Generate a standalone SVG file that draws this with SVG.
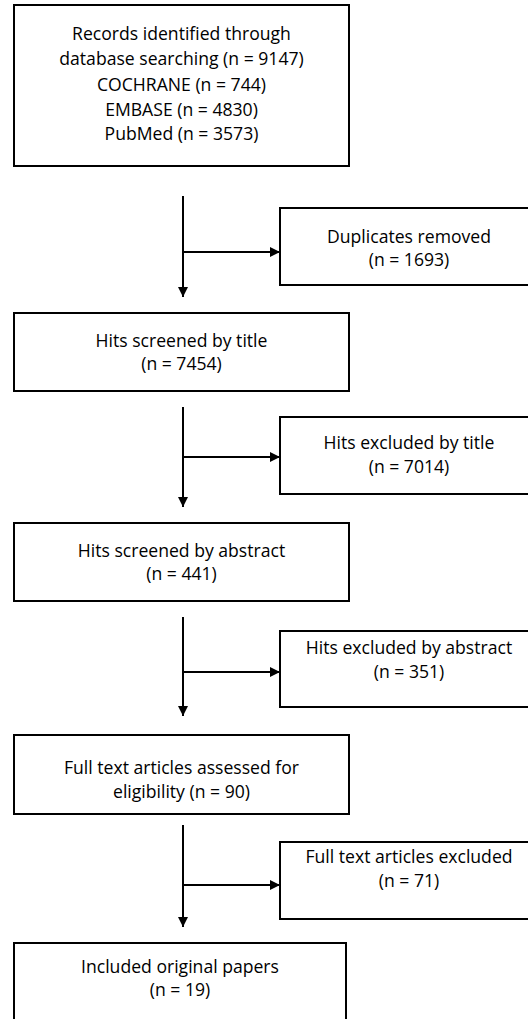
<svg xmlns="http://www.w3.org/2000/svg" width="528" height="1019" viewBox="0 0 528 1019">
<defs>
<marker id="ah" markerWidth="10" markerHeight="10" refX="10" refY="5" orient="auto" markerUnits="userSpaceOnUse">
<path d="M0,0 L10,5 L0,10 Z" fill="#000"/>
</marker>
<style>
.box{fill:#fff;stroke:#000;stroke-width:2}
.ln{fill:none;stroke:#000;stroke-width:2}
text{font-family:"Open Sans","Liberation Sans",sans-serif;font-size:17.6px;fill:#000;text-anchor:middle}
</style>
</defs>
<rect width="528" height="1019" fill="#fff"/>
<g id="connectors">
<line class="ln" x1="183" y1="196" x2="183" y2="297" marker-end="url(#ah)"/>
<line class="ln" x1="183" y1="252" x2="280" y2="252" marker-end="url(#ah)"/>
<line class="ln" x1="183" y1="407" x2="183" y2="507" marker-end="url(#ah)"/>
<line class="ln" x1="183" y1="457" x2="280" y2="457" marker-end="url(#ah)"/>
<line class="ln" x1="183" y1="617" x2="183" y2="716" marker-end="url(#ah)"/>
<line class="ln" x1="183" y1="672" x2="280" y2="672" marker-end="url(#ah)"/>
<line class="ln" x1="183" y1="825" x2="183" y2="927" marker-end="url(#ah)"/>
<line class="ln" x1="183" y1="885" x2="280" y2="885" marker-end="url(#ah)"/>
</g>
<g id="records">
<rect class="box" x="14" y="5" width="335" height="161"/>
<text x="181.5" y="40">Records identified through</text>
<text x="181.5" y="65">database searching (n = 9147)</text>
<text x="181.5" y="91">COCHRANE (n = 744)</text>
<text x="181.5" y="115.5">EMBASE (n = 4830)</text>
<text x="181.5" y="140">PubMed (n = 3573)</text>
</g>
<g id="duplicates">
<rect class="box" x="280" y="208" width="262" height="77"/>
<text x="409" y="242.5">Duplicates removed</text>
<text x="409" y="266">(n = 1693)</text>
</g>
<g id="screened-title">
<rect class="box" x="14" y="313" width="335" height="78"/>
<text x="181.5" y="346.5">Hits screened by title</text>
<text x="181.5" y="370">(n = 7454)</text>
</g>
<g id="excluded-title">
<rect class="box" x="280" y="417" width="262" height="77"/>
<text x="409" y="449">Hits excluded by title</text>
<text x="409" y="472.5">(n = 7014)</text>
</g>
<g id="screened-abstract">
<rect class="box" x="14" y="523" width="335" height="78"/>
<text x="181.5" y="556.5">Hits screened by abstract</text>
<text x="181.5" y="580">(n = 441)</text>
</g>
<g id="excluded-abstract">
<rect class="box" x="280" y="631" width="262" height="76"/>
<text x="409" y="654">Hits excluded by abstract</text>
<text x="409" y="677.5">(n = 351)</text>
</g>
<g id="fulltext-assessed">
<rect class="box" x="14" y="735" width="335" height="79"/>
<text x="181.5" y="774">Full text articles assessed for</text>
<text x="181.5" y="797.5">eligibility (n = 90)</text>
</g>
<g id="fulltext-excluded">
<rect class="box" x="280" y="842" width="262" height="77"/>
<text x="409" y="863">Full text articles excluded</text>
<text x="409" y="886.5">(n = 71)</text>
</g>
<g id="included">
<rect class="box" x="14" y="943" width="332" height="90"/>
<text x="180" y="972.5">Included original papers</text>
<text x="180" y="996">(n = 19)</text>
</g>
</svg>
